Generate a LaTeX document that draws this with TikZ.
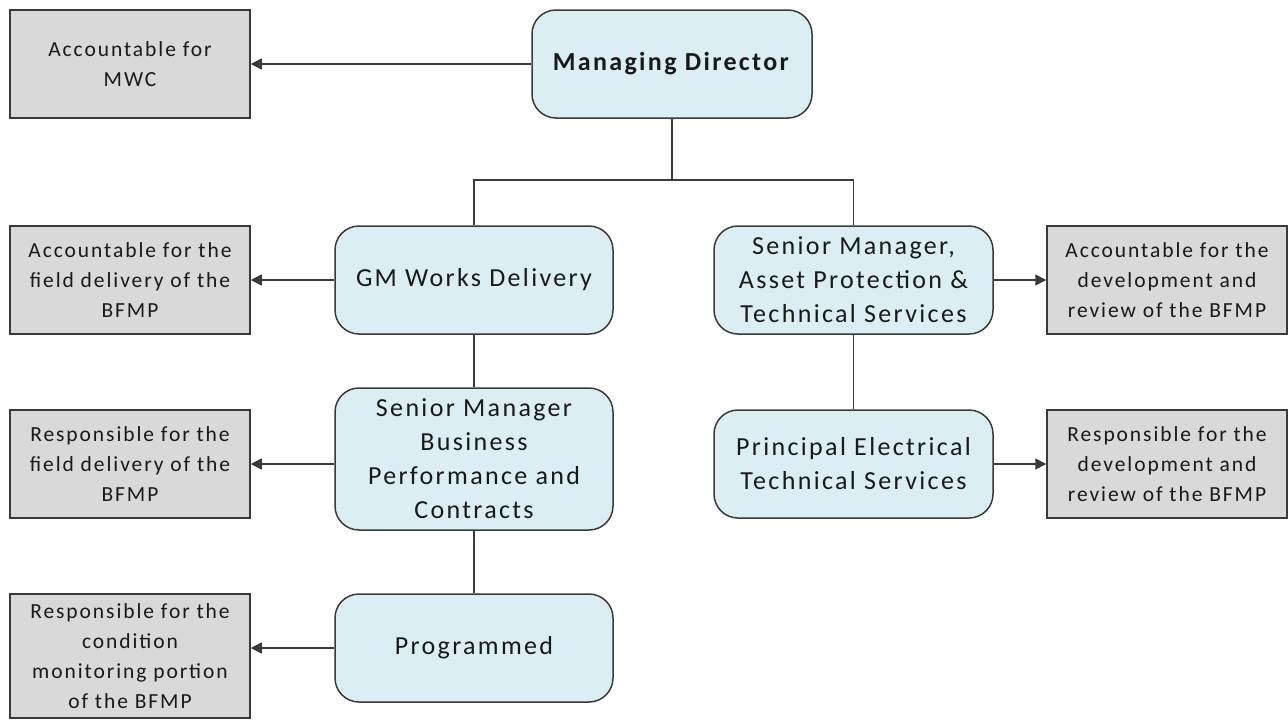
\documentclass[tikz,border=0pt]{standalone}
\usepackage{fontspec}
\setmainfont{Carlito}[LetterSpace=9]
\usetikzlibrary{arrows.meta}
\definecolor{bluefill}{HTML}{DBEEF4}
\definecolor{grayfill}{HTML}{D9D9D9}
\definecolor{edgecol}{HTML}{3A3A3A}
\tikzset{
  rolebox/.style={draw=edgecol, line width=1.5pt, fill=bluefill, rounded corners=24pt,
    inner sep=0pt, align=center, font=\fontsize{26}{34}\selectfont, text=black!90},
  notebox/.style={draw=edgecol, line width=1.5pt, fill=grayfill,
    inner sep=0pt, align=center, font=\fontsize{21.5}{30}\selectfont, text=black!90},
  conn/.style={draw=edgecol, line width=1.5pt},
  arr/.style={conn, -{Triangle[length=11pt,width=11pt]}}
}
\newcommand{\boxat}[7]{% style, name, x1, y1, x2, y2, text
  \node[#1, minimum width={(#5-#3)*1pt}, minimum height={(#6-#4)*1pt}] (#2) at ({(#3+#5)/2},{(#4+#6)/2}) {#7};}
\begin{document}
\begin{tikzpicture}[x=1pt,y=-1pt]
\useasboundingbox (0,0) rectangle (1288,720);
\fill[white] (0,0) rectangle (1288,720);
% role boxes
\boxat{rolebox}{md}{532}{10}{812}{118}{\textbf{Managing Director}}
\boxat{rolebox}{gm}{335}{226}{613}{334}{GM Works Delivery}
\boxat{rolebox}{smap}{714}{226}{993}{334}{Senior Manager,\\Asset Protection \&\\Technical Services}
\boxat{rolebox}{smbp}{335}{388}{613}{530}{Senior Manager\\Business\\Performance and\\Contracts}
\boxat{rolebox}{pets}{714}{410}{993}{518}{Principal Electrical\\Technical Services}
\boxat{rolebox}{prog}{335}{594}{613}{702}{Programmed}
% note boxes
\boxat{notebox}{mwc}{10}{10}{250}{118}{Accountable for\\MWC}
\boxat{notebox}{accfield}{10}{226}{250}{334}{Accountable for the\\field delivery of the\\BFMP}
\boxat{notebox}{accdev}{1047}{226}{1287}{334}{Accountable for the\\development and\\review of the BFMP}
\boxat{notebox}{resfield}{10}{410}{250}{518}{Responsible for the\\field delivery of the\\BFMP}
\boxat{notebox}{resdev}{1047}{410}{1287}{518}{Responsible for the\\development and\\review of the BFMP}
\boxat{notebox}{rescond}{10}{594}{250}{718}{Responsible for the\\condition\\monitoring portion\\of the BFMP}
% connectors
\coordinate (bus) at (0,180);
\draw[conn] (md.south) -- (md.south |- bus) -| (gm.north);
\draw[conn] (md.south |- bus) -| (smap.north);
\draw[conn] (gm.south) -- (smbp.north);
\draw[conn] (smbp.south) -- (prog.north);
\draw[conn] (smap.south) -- (pets.north);
\draw[arr] (md.west) -- (mwc.east);
\draw[arr] (gm.west) -- (accfield.east);
\draw[arr] (resfield.east -| smbp.west) -- (resfield.east);
\draw[arr] (prog.west) -- (prog.west -| rescond.east);
\draw[arr] (smap.east) -- (accdev.west);
\draw[arr] (pets.east) -- (resdev.west);
\end{tikzpicture}
\end{document}
